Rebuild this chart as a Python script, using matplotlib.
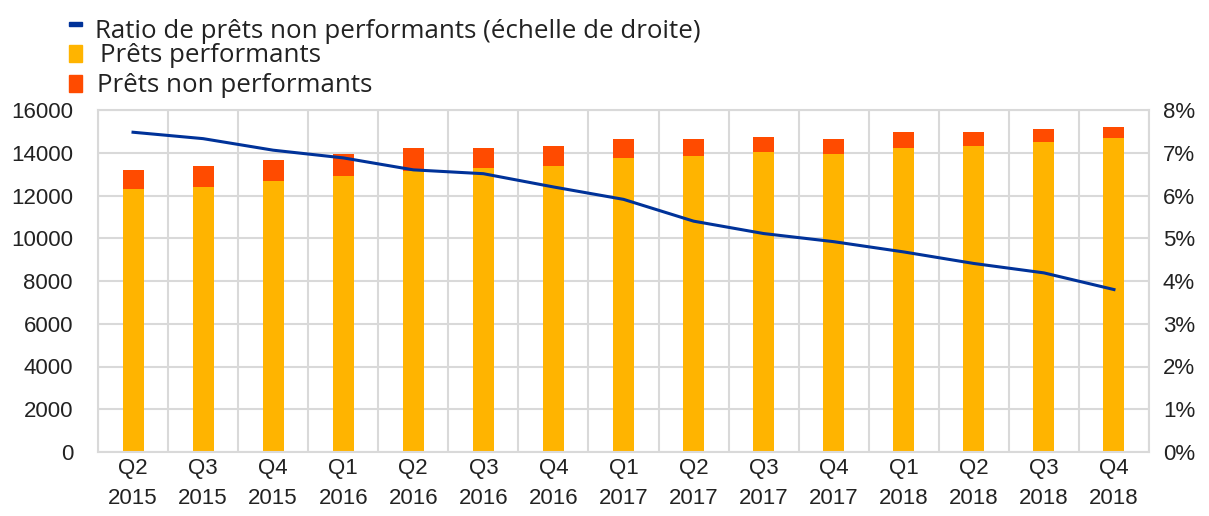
import matplotlib.pyplot as plt
from matplotlib.patches import Rectangle
from matplotlib.ticker import FuncFormatter
import numpy as np

quarters = ['Q2\n2015', 'Q3\n2015', 'Q4\n2015', 'Q1\n2016', 'Q2\n2016', 'Q3\n2016', 'Q4\n2016',
            'Q1\n2017', 'Q2\n2017', 'Q3\n2017', 'Q4\n2017', 'Q1\n2018', 'Q2\n2018', 'Q3\n2018', 'Q4\n2018']
performing = [12300, 12390, 12660, 12920, 13150, 13280, 13380, 13750, 13850, 14040, 13940,
              14210, 14300, 14490, 14670]
total = [13200, 13380, 13660, 13930, 14200, 14200, 14300, 14660, 14660, 14760, 14660,
         14950, 14950, 15120, 15220]
npl_ratio = [7.48, 7.33, 7.06, 6.88, 6.60, 6.51, 6.20, 5.91, 5.40, 5.11, 4.92, 4.68, 4.41, 4.19, 3.80]

non_performing = [t - p for t, p in zip(total, performing)]

yellow = '#FFB400'
orange = '#FF4B00'
blue = '#003299'
grid_col = '#D9D9D9'

plt.rcParams['font.family'] = ['Liberation Sans', 'DejaVu Sans']

fig = plt.figure(figsize=(12.09, 5.16), dpi=100)
ax = fig.add_axes([98 / 1209, 1 - 452 / 516, 1051 / 1209, 342 / 516])
x = np.arange(len(quarters))

ax.bar(x, performing, width=0.3, color=yellow, zorder=2)
ax.bar(x, non_performing, bottom=performing, width=0.3, color=orange, zorder=2)

ax.set_xlim(-0.5, len(quarters) - 0.5)
ax.set_ylim(0, 16000)
ax.set_yticks(range(0, 16001, 2000))
ax.set_xticks(x)
ax.set_xticklabels(quarters, fontsize=16, linespacing=1.62, color='#222222')
ax.set_xticks(np.arange(-0.5, len(quarters), 1), minor=True)
ax.tick_params(axis='y', labelsize=16, length=0, pad=18, labelcolor='#222222')
ax.tick_params(axis='x', which='both', length=0, pad=4)
ax.grid(True, axis='y', color=grid_col, lw=1.5, zorder=0)
ax.grid(True, axis='x', which='minor', color=grid_col, lw=1.5, zorder=0)
ax.grid(False, axis='x', which='major')
for s in ax.spines.values():
    s.set_color(grid_col)
    s.set_linewidth(1.5)

ax2 = ax.twinx()
ax2.plot(x, npl_ratio, color=blue, lw=2.2, zorder=3)
ax2.set_ylim(0, 8)
ax2.set_yticks(range(0, 9))
ax2.yaxis.set_major_formatter(FuncFormatter(lambda v, p: f'{int(v)}%'))
ax2.tick_params(axis='y', labelsize=16, length=0, pad=10, labelcolor='#222222')
for s in ax2.spines.values():
    s.set_visible(False)

# legend (drawn by hand to follow the uneven spacing of the original)
leg_items = [('Ratio de prêts non performants (échelle de droite)', blue, 95, 31, (22, 26)),
             ('Prêts performants', yellow, 100, 55, (45, 62)),
             ('Prêts non performants', orange, 97, 85, (75, 92))]
for label, col, xt, ypx, (y0, y1) in leg_items:
    fig.patches.append(Rectangle((69 / 1209, 1 - y1 / 516), 13 / 1209, (y1 - y0) / 516,
                                 color=col, transform=fig.transFigure))
    fig.text(xt / 1209, 1 - ypx / 516, label, fontsize=18.6, family=['Open Sans', 'DejaVu Sans'],
             va='center', ha='left', color='#222222')

fig.savefig('out.png', dpi=100)
